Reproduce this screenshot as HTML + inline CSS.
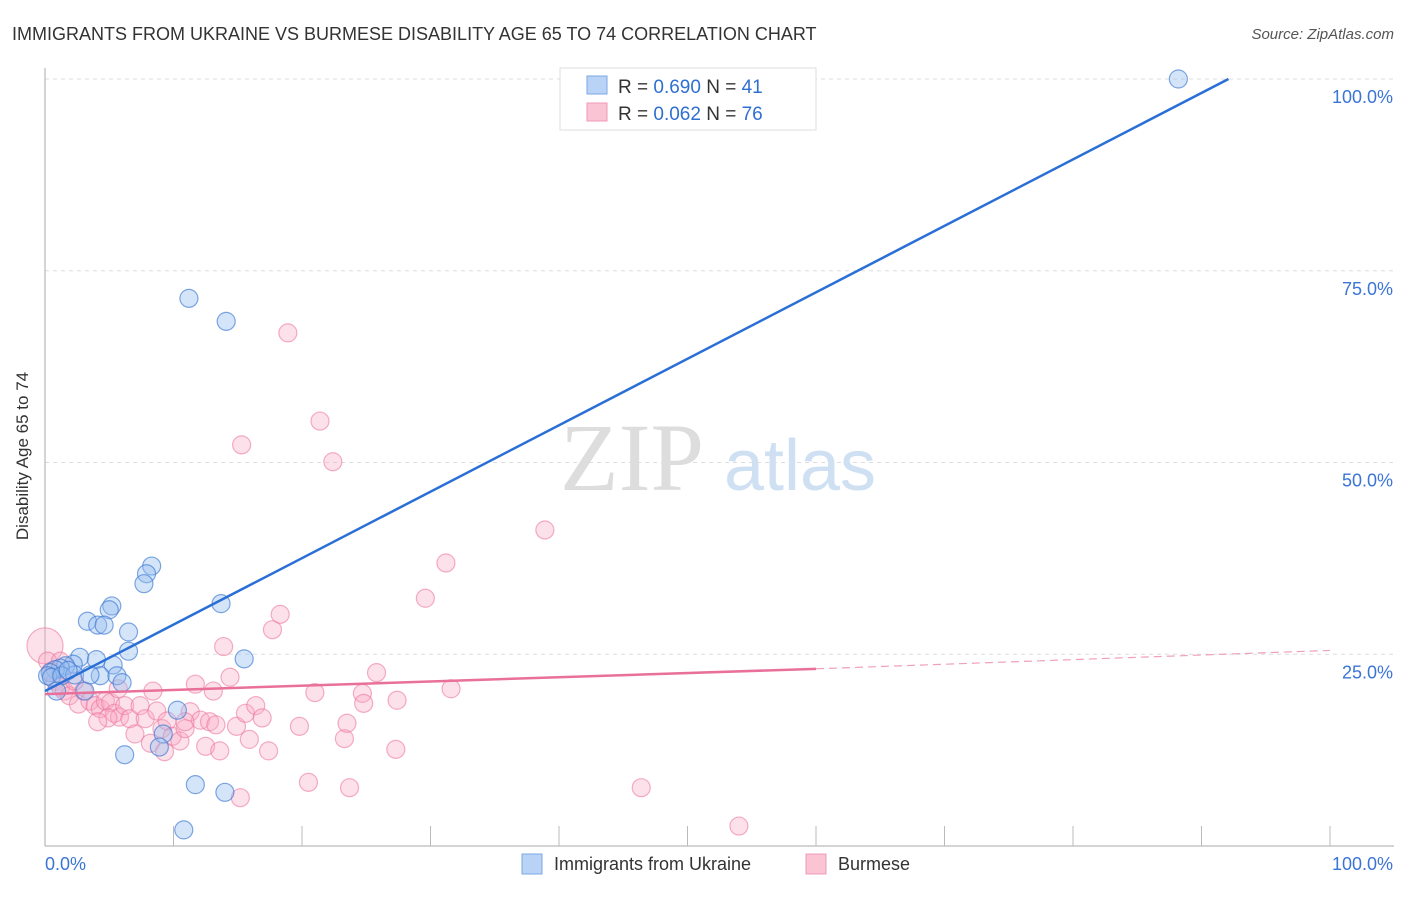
<!DOCTYPE html>
<html><head><meta charset="utf-8"><style>
body{margin:0;background:#fff;font-family:"Liberation Sans",sans-serif}
</style></head><body>
<svg width="1406" height="892" xmlns="http://www.w3.org/2000/svg">
<text x="12" y="40" font-size="18" fill="#333">IMMIGRANTS FROM UKRAINE VS BURMESE DISABILITY AGE 65 TO 74 CORRELATION CHART</text>
<text x="1394" y="39" font-size="15" fill="#555" font-style="italic" text-anchor="end">Source: ZipAtlas.com</text>
<g id="grid"></g>
<text x="632" y="490" font-size="96" fill="#ddd" font-family="Liberation Serif" text-anchor="middle">ZIP</text>
<text x="800" y="490" font-size="72" fill="#cfe0f3" text-anchor="middle">atlas</text>
<g id="pts"></g>
<g id="lines"></g>
<text x="28" y="456" font-size="17" fill="#333" text-anchor="middle" transform="rotate(-90 28 456)">Disability Age 65 to 74</text>
<g>
<rect x="560" y="68" width="256" height="62" fill="#fff" stroke="#ddd"/>
<rect x="587" y="76" width="20" height="18" fill="#b8d3f5" stroke="#7aa9e6"/>
<rect x="587" y="103" width="20" height="18" fill="#fac4d4" stroke="#f09ab4"/>
<text x="618" y="93" font-size="19" fill="#333">R = <tspan fill="#2f6fd0">0.690</tspan>   N = <tspan fill="#2f6fd0">41</tspan></text>
<text x="618" y="120" font-size="19" fill="#333">R = <tspan fill="#2f6fd0">0.062</tspan>   N = <tspan fill="#2f6fd0">76</tspan></text>
</g>
<g>
<rect x="522" y="854" width="20" height="20" fill="#b8d3f5" stroke="#7aa9e6"/>
<text x="554" y="870" font-size="18" fill="#333">Immigrants from Ukraine</text>
<rect x="806" y="854" width="20" height="20" fill="#fac4d4" stroke="#f09ab4"/>
<text x="838" y="870" font-size="18" fill="#333">Burmese</text>
</g>
</svg>
<script>
const yTicks=[25,50,75,100];
const yTickLabels=["25.0%","50.0%","75.0%","100.0%"];
const xTickLabels=["0.0%","100.0%"];
const blueX=[88.2,11.2,14.1,8.3,7.9,7.7,5.2,5.0,3.3,4.1,4.6,6.5,13.7,6.5,15.5,5.3,2.7,4.0,2.2,1.6,1.2,0.8,0.4,0.2,0.5,1.3,2.3,4.3,5.6,6.0,3.1,0.9,10.3,9.2,8.9,6.2,11.7,14.0,10.8,1.8,3.5];
const blueY=[100,71.4,68.4,36.5,35.5,34.2,31.3,30.8,29.3,28.8,28.8,27.9,31.6,25.4,24.4,23.6,24.6,24.3,23.7,23.5,23.2,23.0,22.6,22.2,22.0,22.2,22.3,22.2,22.2,21.3,20.2,20.2,17.7,14.6,12.9,11.9,8.0,7.0,2.1,22.9,22.3];
const pinkX=[0,0.2,0.5,0.8,1.2,1.5,1.9,2.6,3.0,3.5,3.9,4.3,4.7,5.1,5.4,5.8,6.2,6.6,7.0,7.4,7.8,8.2,8.4,8.7,9.1,9.5,9.9,10.5,10.9,11.3,11.7,12.1,12.5,12.8,13.1,13.3,13.6,13.9,14.4,14.9,15.2,15.3,15.6,15.9,16.4,16.9,17.4,17.7,18.3,18.9,19.8,20.5,21.0,21.4,22.4,23.3,23.5,23.7,24.7,24.8,25.8,27.4,27.3,29.6,31.2,31.6,38.9,46.4,54.0,4.9,5.7,2.3,1.2,4.1,9.3,10.9];
const pinkY=[26.1,24.1,22.8,21.5,20.7,20.2,19.6,18.5,20.2,18.9,18.3,17.9,18.9,18.7,17.3,16.8,18.3,16.6,14.6,18.3,16.6,13.4,20.2,17.6,15.3,16.3,14.3,13.7,15.3,17.5,21.1,16.4,13.0,16.2,20.2,15.8,12.4,26.0,22.0,15.6,6.3,52.3,17.3,13.9,18.3,16.7,12.4,28.2,30.2,66.9,15.6,8.3,20.0,55.4,50.1,14.0,16.0,7.6,19.9,18.6,22.6,19.0,12.6,32.3,36.9,20.5,41.2,7.6,2.6,16.7,20.5,21.5,24.1,16.2,12.3,16.2];
const blueLine=[[0,20.2],[92.1,100]];
const pinkSolid=[[0,19.8],[60,23.1]];
const pinkDash=[[60,23.1],[100,25.5]];
const X=v=>45+v*12.85, Y=v=>846-v*7.67;
const NS="http://www.w3.org/2000/svg";
function mk(t,a,p){const e=document.createElementNS(NS,t);for(const k in a)e.setAttribute(k,a[k]);p.appendChild(e);return e;}
const g=document.getElementById('grid');
yTicks.forEach((t,i)=>{
 const l=mk('line',{x1:45,x2:1394,y1:Y(t),y2:Y(t),stroke:'#ddd','stroke-dasharray':'4,4'},g);
 
 
 const tx=mk('text',{x:1393,y:Y(t)+24,'font-size':18,fill:'#3a75d6','text-anchor':'end'},g);
 tx.textContent=yTickLabels[i];
 
 
});
const ax=mk('line',{x1:45,x2:1394,y1:846,y2:846,stroke:'#aaa'},g);


const ay=mk('line',{x1:45,x2:45,y1:68,y2:846,stroke:'#aaa'},g);


for(let i=1;i<=10;i++){const t=mk('line',{x1:X(i*10),x2:X(i*10),y1:826,y2:846,stroke:'#bbb'},g);
 
 }
[[0,'start',45],[100,'end',1393]].forEach((a,i)=>{const t=mk('text',{x:a[2],y:870,'font-size':18,fill:'#3a75d6','text-anchor':a[1]},g);t.textContent=xTickLabels[i];
 
 });
const p=document.getElementById('pts');
pinkX.forEach((x,i)=>{const c=mk('circle',{cx:X(x),cy:Y(pinkY[i]),r:i==0?18:9,fill:'rgba(248,170,195,0.35)',stroke:'rgba(236,120,160,0.6)','stroke-width':1.2},p);
 
 });
blueX.forEach((x,i)=>{const c=mk('circle',{cx:X(x),cy:Y(blueY[i]),r:9,fill:'rgba(150,190,240,0.4)',stroke:'rgba(60,120,210,0.65)','stroke-width':1.2},p);
 
 });
const L=document.getElementById('lines');
const b=mk('line',{x1:X(blueLine[0][0]),y1:Y(blueLine[0][1]),x2:X(blueLine[1][0]),y2:Y(blueLine[1][1]),stroke:'#2a6fd6','stroke-width':2.5},L);


const ps=mk('line',{x1:X(pinkSolid[0][0]),y1:Y(pinkSolid[0][1]),x2:X(pinkSolid[1][0]),y2:Y(pinkSolid[1][1]),stroke:'#e8709a','stroke-width':2.5},L);


const pd=mk('line',{x1:X(pinkDash[0][0]),y1:Y(pinkDash[0][1]),x2:X(pinkDash[1][0]),y2:Y(pinkDash[1][1]),stroke:'#f0a0bb','stroke-width':1.2,'stroke-dasharray':'8,5'},L);


</script>
</body></html>
